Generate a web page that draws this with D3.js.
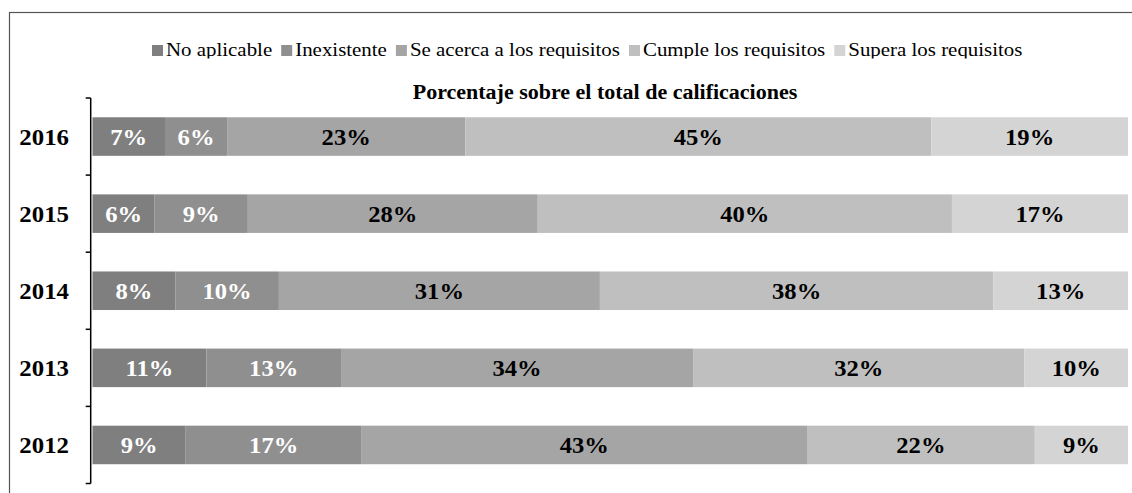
<!DOCTYPE html>
<html>
<head>
<meta charset="utf-8">
<script src="https://cdn.jsdelivr.net/npm/d3@7"></script>
<style>
  body { margin: 0; background: #fff; }
</style>
</head>
<body>
<svg id="chart"></svg>
<script>
// data
const years = ["2016", "2015", "2014", "2013", "2012"]
const noAplicable = [7, 6, 8, 11, 9]
const inexistente = [6, 9, 10, 13, 17]
const seAcerca = [23, 28, 31, 34, 43]
const cumple = [45, 40, 38, 32, 22]
const supera = [19, 17, 13, 10, 9]
const seriesNames = ["No aplicable", "Inexistente", "Se acerca a los requisitos", "Cumple los requisitos", "Supera los requisitos"]
const colors = ["#7f7f7f", "#8f8f8f", "#a5a5a5", "#bfbfbf", "#d4d4d4"]
const labelColors = ["#fff", "#fff", "#000", "#000", "#000"]
const title = "Porcentaje sobre el total de calificaciones"

const width = 1132, height = 493
const font = "Liberation Serif"

const svg = d3.select("#chart")
    .attr("width", width)
    .attr("height", height)

// the picture's text is a bit wider than the font: widen glyphs with a transform
function stretch(sel, k) {
    sel.each(function() {
        const s = d3.select(this)
        const tx = +s.attr("x"), ty = +s.attr("y")
        s.attr("x", 0).attr("y", 0)
            .attr("transform", "translate(" + tx + "," + ty + ") scale(" + k + ",1)")
    })
}

// outer frame (only left and top visible)
svg.append("rect")
    .attr("x", 9.5).attr("y", 12.5)
    .attr("width", 1300).attr("height", 700)
    .attr("fill", "none")
    .attr("stroke", "#555")
    .attr("stroke-width", 1.2)

const table = years.map((y, i) => ({
    year: y,
    "No aplicable": noAplicable[i],
    "Inexistente": inexistente[i],
    "Se acerca a los requisitos": seAcerca[i],
    "Cumple los requisitos": cumple[i],
    "Supera los requisitos": supera[i]
}))

const stack = d3.stack().keys(seriesNames)(table)

const x = d3.scaleLinear()
    .domain([0, 100])
    .range([92.5, 1128])

const y = d3.scaleBand()
    .domain(years)
    .range([98, 483.5])
    .paddingInner(0.5)
    .paddingOuter(0.25)

const color = d3.scaleOrdinal().domain(seriesNames).range(colors)

// bars
const groups = svg.append("g")
    .selectAll("g")
    .data(stack)
    .enter()
    .append("g")
    .attr("fill", (d) => color(d.key))

groups.selectAll("rect")
    .data((d) => d)
    .enter()
    .append("rect")
    .attr("x", (d) => x(d[0]))
    .attr("y", (d) => y(d.data.year))
    .attr("width", (d) => x(d[1]) - x(d[0]))
    .attr("height", y.bandwidth())

// value labels
const labels = groups.selectAll("text")
    .data((d, i) => d.map((v) => ({ v: v, i: i })))
    .enter()
    .append("text")
    .attr("x", (d) => (x(d.v[0]) + x(d.v[1])) / 2)
    .attr("y", (d) => y(d.v.data.year) + y.bandwidth() / 2 + 8)
    .attr("text-anchor", "middle")
    .style("font-family", font)
    .attr("font-size", "23px")
    .attr("font-weight", "bold")
    .attr("fill", (d) => labelColors[d.i])
    .text((d) => (d.v[1] - d.v[0]) + "%")
stretch(labels, 1.07)

// y axis: line with ticks pointing left at the band edges
const axisX = 90.7
const edges = years.map((yr) => y(yr) - y.step() * y.paddingInner() / 2)
edges[0] = y.range()[0]
edges.push(y.range()[1])

const axis = svg.append("g")
axis.append("line")
    .attr("x1", axisX).attr("x2", axisX)
    .attr("y1", y.range()[0]).attr("y2", y.range()[1])
    .attr("stroke", "#000").attr("stroke-width", 1.5)
axis.selectAll(".tick")
    .data(edges)
    .enter()
    .append("line")
    .attr("class", "tick")
    .attr("x1", axisX - 5).attr("x2", axisX)
    .attr("y1", (d) => d).attr("y2", (d) => d)
    .attr("stroke", "#000").attr("stroke-width", 1.5)

const yearLabels = axis.selectAll("text")
    .data(years)
    .enter()
    .append("text")
    .attr("x", 69)
    .attr("y", (d) => y(d) + y.bandwidth() / 2 + 8)
    .attr("text-anchor", "end")
    .style("font-family", font)
    .attr("font-size", "23px")
    .attr("font-weight", "bold")
    .attr("fill", "#000")
    .text((d) => d)
stretch(yearLabels, 1.08)

// title
const t = svg.append("text")
    .attr("x", 605)
    .attr("y", 99)
    .attr("text-anchor", "middle")
    .style("font-family", font)
    .attr("font-size", "20px")
    .attr("font-weight", "bold")
    .attr("fill", "#000")
    .text(title)
stretch(t, 1.1)

// legend, descenders clipped like in the picture
svg.append("clipPath")
    .attr("id", "legclip")
    .append("rect")
    .attr("x", 0).attr("y", 0)
    .attr("width", width).attr("height", 58.5)

const legend = svg.append("g").attr("clip-path", "url(#legclip)")
const legK = 1.1
let lx = 152
seriesNames.forEach((name) => {
    legend.append("rect")
        .attr("x", lx).attr("y", 45)
        .attr("width", 11).attr("height", 11)
        .attr("fill", color(name))
    const txt = legend.append("text")
        .attr("x", lx + 14)
        .attr("y", 56)
        .style("font-family", font)
        .attr("font-size", "19px")
        .attr("fill", "#000")
        .text(name)
    const w = txt.node().getComputedTextLength() * legK
    stretch(txt, legK)
    lx += 14 + w + 9
})
</script>
</body>
</html>
